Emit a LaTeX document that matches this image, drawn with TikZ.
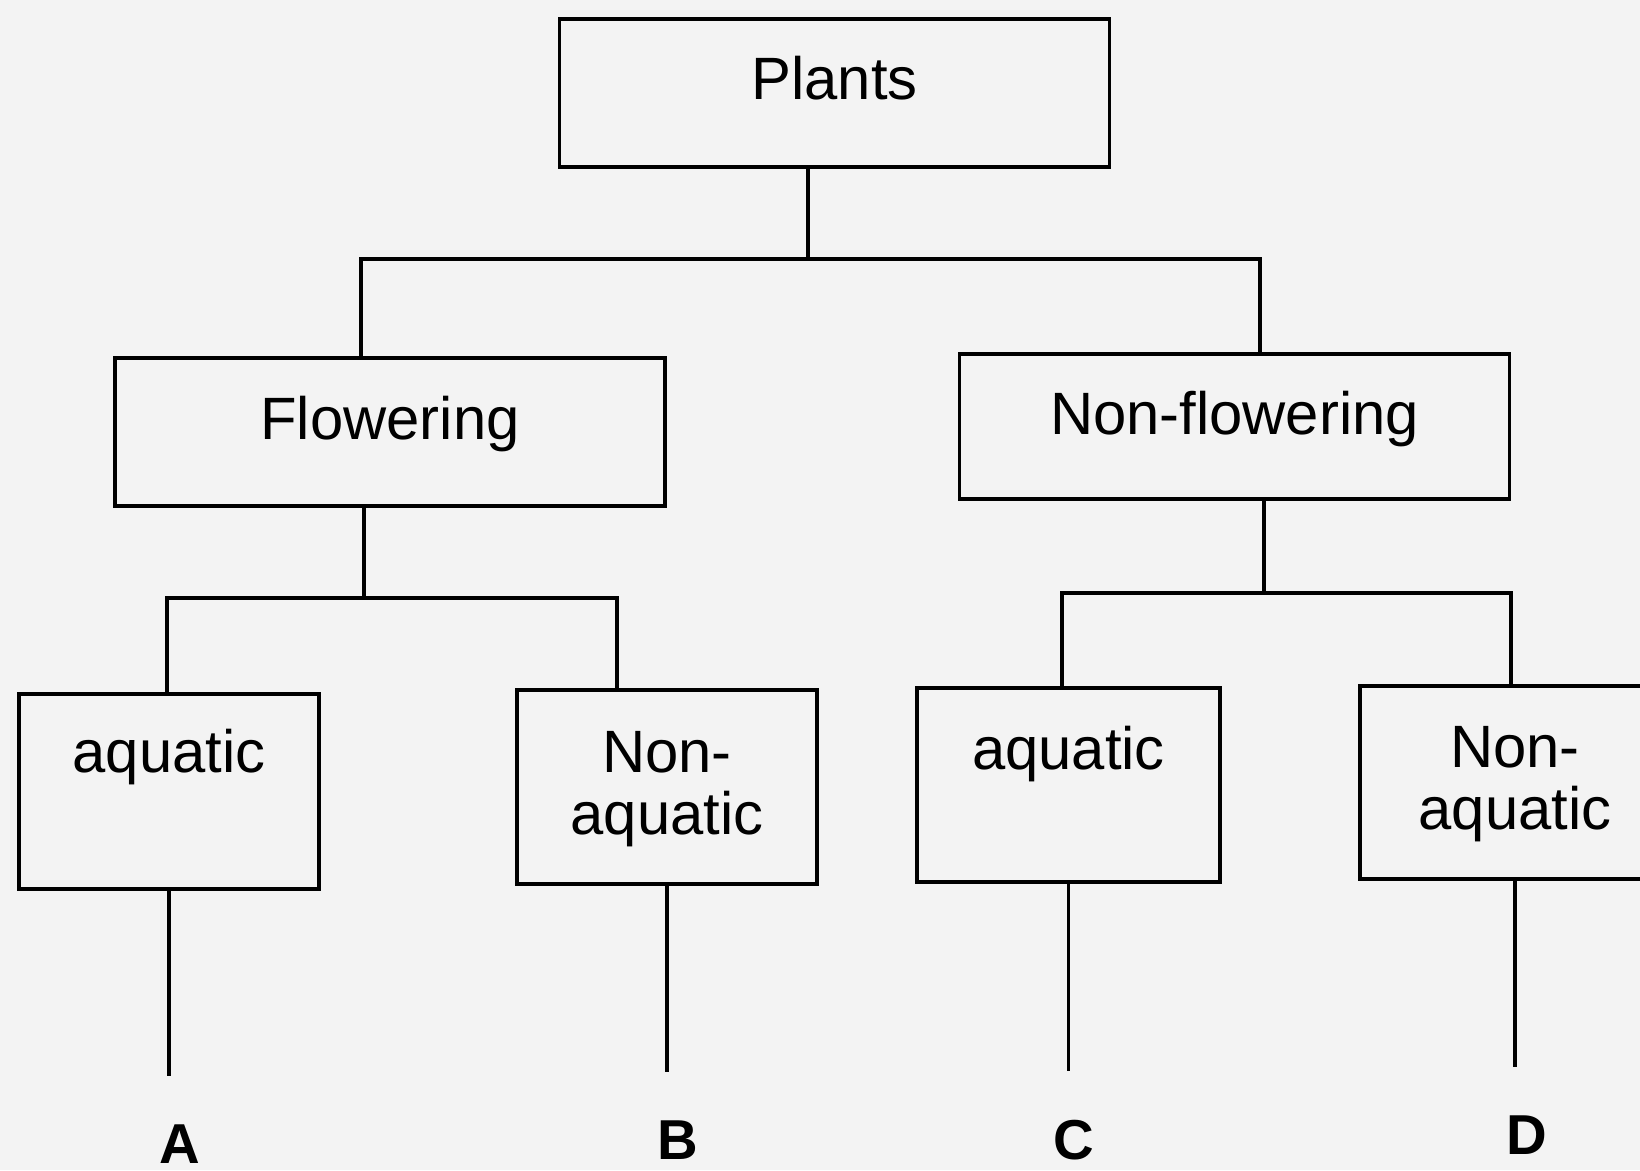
\documentclass[tikz,border=0pt]{standalone}
\usepackage{fontspec}
\setmainfont{Liberation Sans}
\usetikzlibrary{positioning}
\definecolor{paper}{RGB}{243,243,243}
\newcommand{\lw}{1pt}

\begin{document}
\begin{tikzpicture}[x=0.01cm, y=-0.01cm, draw=black, line width=\lw]
		\tikzstyle{box}=[rectangle, draw=black, line width=\lw, inner xsep=0pt, inner ysep=0pt,
			align=center, font=\fontsize{17}{17.6}\selectfont]
		\tikzstyle{wide box}=[box, minimum width=5.5cm]
		\tikzstyle{small box}=[box, minimum width=3cm]
		\tikzstyle{letter}=[inner sep=0pt, anchor=base, font=\fontsize{16}{18}\selectfont\bfseries]
		\tikzstyle{link}=[line width=\lw]
		\tikzstyle{leg}=[line width=\lw, shorten >=0.47cm]

		\useasboundingbox (0,0) rectangle (1640,1170);
		\fill[paper] (0,0) rectangle (1640,1170);

		% Top
		\node[wide box, text height=.80cm, text depth=.68cm](P) at (834.5,93) {Plants};

		% Second row
		\node[wide box, text height=.81cm, text depth=.67cm](F) at (390,432) {Flowering};
		\node[wide box, text height=.80cm, text depth=.65cm](NF) at (1234.5,426.5) {Non-flowering};

		% Third row
		\node[small box, text height=.78cm, text depth=1.17cm](A1) at (169,791.5) {aquatic};
		\node[small box, text height=1.44cm, text depth=.50cm](N1) at (667,787) {Non-\\aquatic};
		\node[small box, minimum width=3.03cm, text height=.81cm, text depth=1.13cm](A2) at (1068.5,785) {aquatic};
		\node[small box, minimum width=3.1cm, text height=1.43cm, text depth=.50cm](N2) at (1515,782.5) {Non-\\aquatic};

		% Letters
		\node[letter](lA) at (180,1163) {A};
		\node[letter](lB) at (678,1159) {B};
		\node[letter](lC) at (1074,1159) {C};
		\node[letter](lD) at (1527,1154) {D};

		% Junctions
		\coordinate (j0) at (808,259);
		\coordinate (j1) at (364,598);
		\coordinate (j2) at (1264,593);

		% Tree connections
		\draw[link] (P.south -| j0) -- (j0);
		\draw[link] (j0) -| ([xshift=-0.29cm]F.north);
		\draw[link] (j0) -| ([xshift=0.255cm]NF.north);

		\draw[link] (F.south -| j1) -- (j1);
		\draw[link] (j1) -| ([xshift=-0.02cm]A1.north);
		\draw[link] (j1) -| ([xshift=-0.5cm]N1.north);

		\draw[link] (NF.south -| j2) -- (j2);
		\draw[link] (j2) -| ([xshift=-0.065cm]A2.north);
		\draw[link] (j2) -| ([xshift=-0.04cm]N2.north);

		% Legs to letters
		\draw[leg] (A1.south) -- (A1.south |- lA.north);
		\draw[leg] (N1.south) -- (N1.south |- lB.north);
		\draw[leg] (A2.south) -- (A2.south |- lC.north);
		\draw[leg] (N2.south) -- (N2.south |- lD.north);

		\end{tikzpicture}
\end{document}
